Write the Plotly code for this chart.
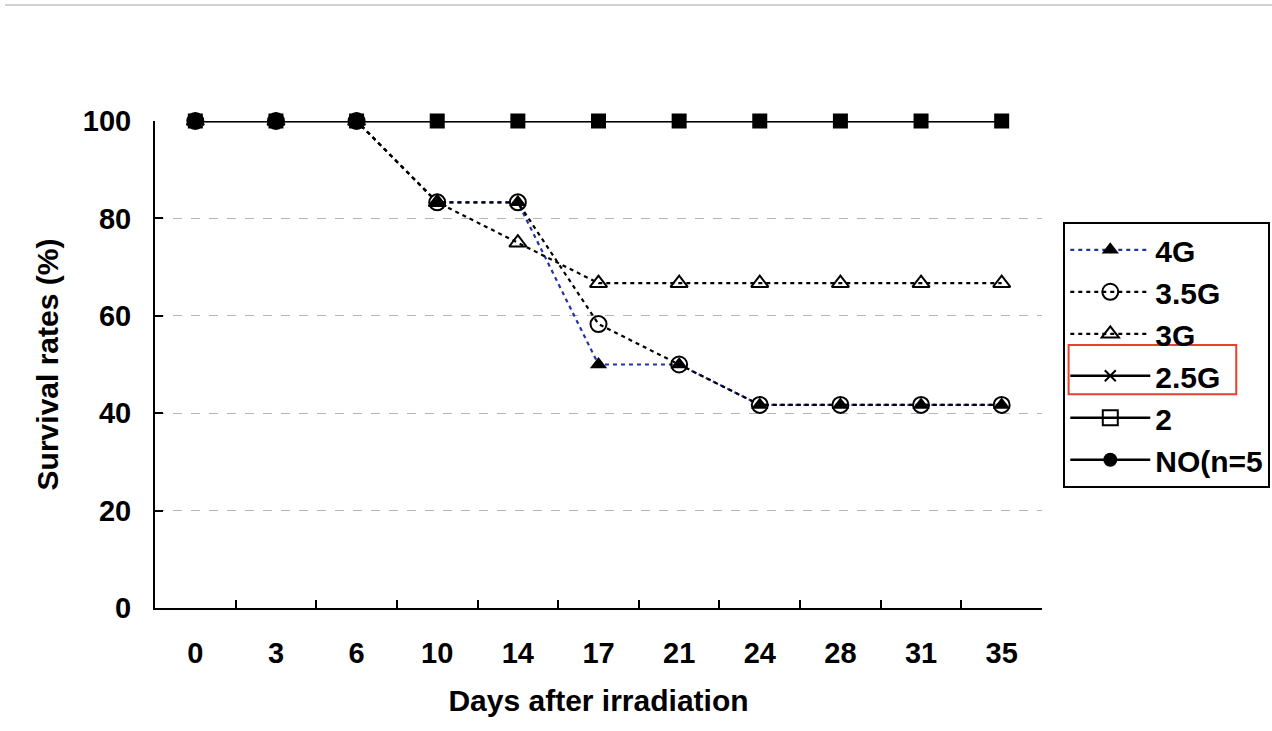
import plotly.graph_objects as go

days = ["0", "3", "6", "10", "14", "17", "21", "24", "28", "31", "35"]
g4 = [100, 100, 100, 83.3, 83.3, 50, 50, 41.7, 41.7, 41.7, 41.7]
g35 = [100, 100, 100, 83.3, 83.3, 58.3, 50, 41.7, 41.7, 41.7, 41.7]
g3 = [100, 100, 100, 83.3, 75, 66.7, 66.7, 66.7, 66.7, 66.7, 66.7]
g25 = [100] * 11
g2 = [100] * 11
g0 = [100] * 11
y_ticks = [0, 20, 40, 60, 80, 100]

FONT = "Liberation Sans, Arial, sans-serif"
dotted = "4px,4px"

fig = go.Figure()

fig.add_trace(go.Scatter(
    x=days, y=g4, name="4G", mode="lines+markers", legendrank=1,
    line=dict(color="#2233aa", width=2.2, dash=dotted),
    marker=dict(symbol="triangle-up", size=15, color="black"),
    cliponaxis=False))
fig.add_trace(go.Scatter(
    x=days, y=g35, name="3.5G", mode="lines+markers", legendrank=2,
    line=dict(color="black", width=2.2, dash=dotted),
    marker=dict(symbol="circle-open", size=16, color="black", line=dict(width=2)),
    cliponaxis=False))
fig.add_trace(go.Scatter(
    x=days, y=g3, name="3G", mode="lines+markers", legendrank=3,
    line=dict(color="black", width=2.2, dash=dotted),
    marker=dict(symbol="triangle-up-open", size=15, color="black", line=dict(width=2)),
    cliponaxis=False))
fig.add_trace(go.Scatter(
    x=days, y=g25, name="2.5G", mode="lines+markers", legendrank=4,
    line=dict(color="black", width=2.5),
    marker=dict(symbol="x-thin-open", size=11, color="black", line=dict(width=2)),
    cliponaxis=False))
fig.add_trace(go.Scatter(
    x=days, y=g0, name="NO(n=5", mode="lines+markers", legendrank=6,
    line=dict(color="black", width=2.5),
    marker=dict(symbol="circle", size=14, color="black"),
    cliponaxis=False))
# plotted "2" series (appears filled on the chart)
fig.add_trace(go.Scatter(
    x=days, y=g2, name="2", mode="lines+markers", showlegend=False,
    line=dict(color="black", width=2.5),
    marker=dict(symbol="square", size=15, color="black"),
    cliponaxis=False))
# legend entry for "2" (open square)
fig.add_trace(go.Scatter(
    x=[None], y=[None], name="2", mode="lines+markers", legendrank=5,
    line=dict(color="black", width=2.5),
    marker=dict(symbol="square-open", size=15, color="black", line=dict(width=2))))

fig.update_layout(
    width=1272, height=731,
    margin=dict(l=155, r=230, t=121, b=123, autoexpand=False),
    paper_bgcolor="white", plot_bgcolor="white",
    font=dict(family=FONT, color="black"),
    showlegend=True,
    legend=dict(
        x=1.024, y=0.793, xanchor="left", yanchor="top",
        bordercolor="black", borderwidth=2, bgcolor="rgba(0,0,0,0)",
        font=dict(family=FONT, size=30, color="black", weight="bold"),
        traceorder="normal", itemwidth=80,
    ),
    xaxis=dict(
        type="category", range=[-0.5, 10.5],
        showline=True, linecolor="black", linewidth=2,
        ticks="inside", ticklen=8, tickwidth=2, tickcolor="black",
        tickson="boundaries", showgrid=False, zeroline=False,
        tickfont=dict(family=FONT, size=29, weight="bold"),
        ticklabelstandoff=18,
        title=dict(text="<b>Days after irradiation</b>", font=dict(family=FONT, size=30), standoff=22),
    ),
    yaxis=dict(
        range=[0, 100], tickvals=y_ticks,
        showline=True, linecolor="black", linewidth=2,
        ticks="inside", ticklen=8, tickwidth=2, tickcolor="black",
        showgrid=True, gridcolor="#b5b5b5", gridwidth=1, griddash="dash",
        zeroline=False,
        tickfont=dict(family=FONT, size=29, weight="bold"),
        ticklabelstandoff=16,
        title=dict(text="<b>Survival rates (%)</b>", font=dict(family=FONT, size=30), standoff=15),
    ),
    shapes=[
        dict(type="rect", xref="paper", yref="paper", x0=1.030, x1=1.219, y0=0.439, y1=0.540,
             line=dict(color="#e8412c", width=2), fillcolor="rgba(0,0,0,0)"),
        dict(type="line", xref="paper", yref="paper", x0=-0.169, x1=1.26, y0=1.238, y1=1.238,
             line=dict(color="#d0d0d0", width=2)),
    ],
)

fig.write_html("out.html")
